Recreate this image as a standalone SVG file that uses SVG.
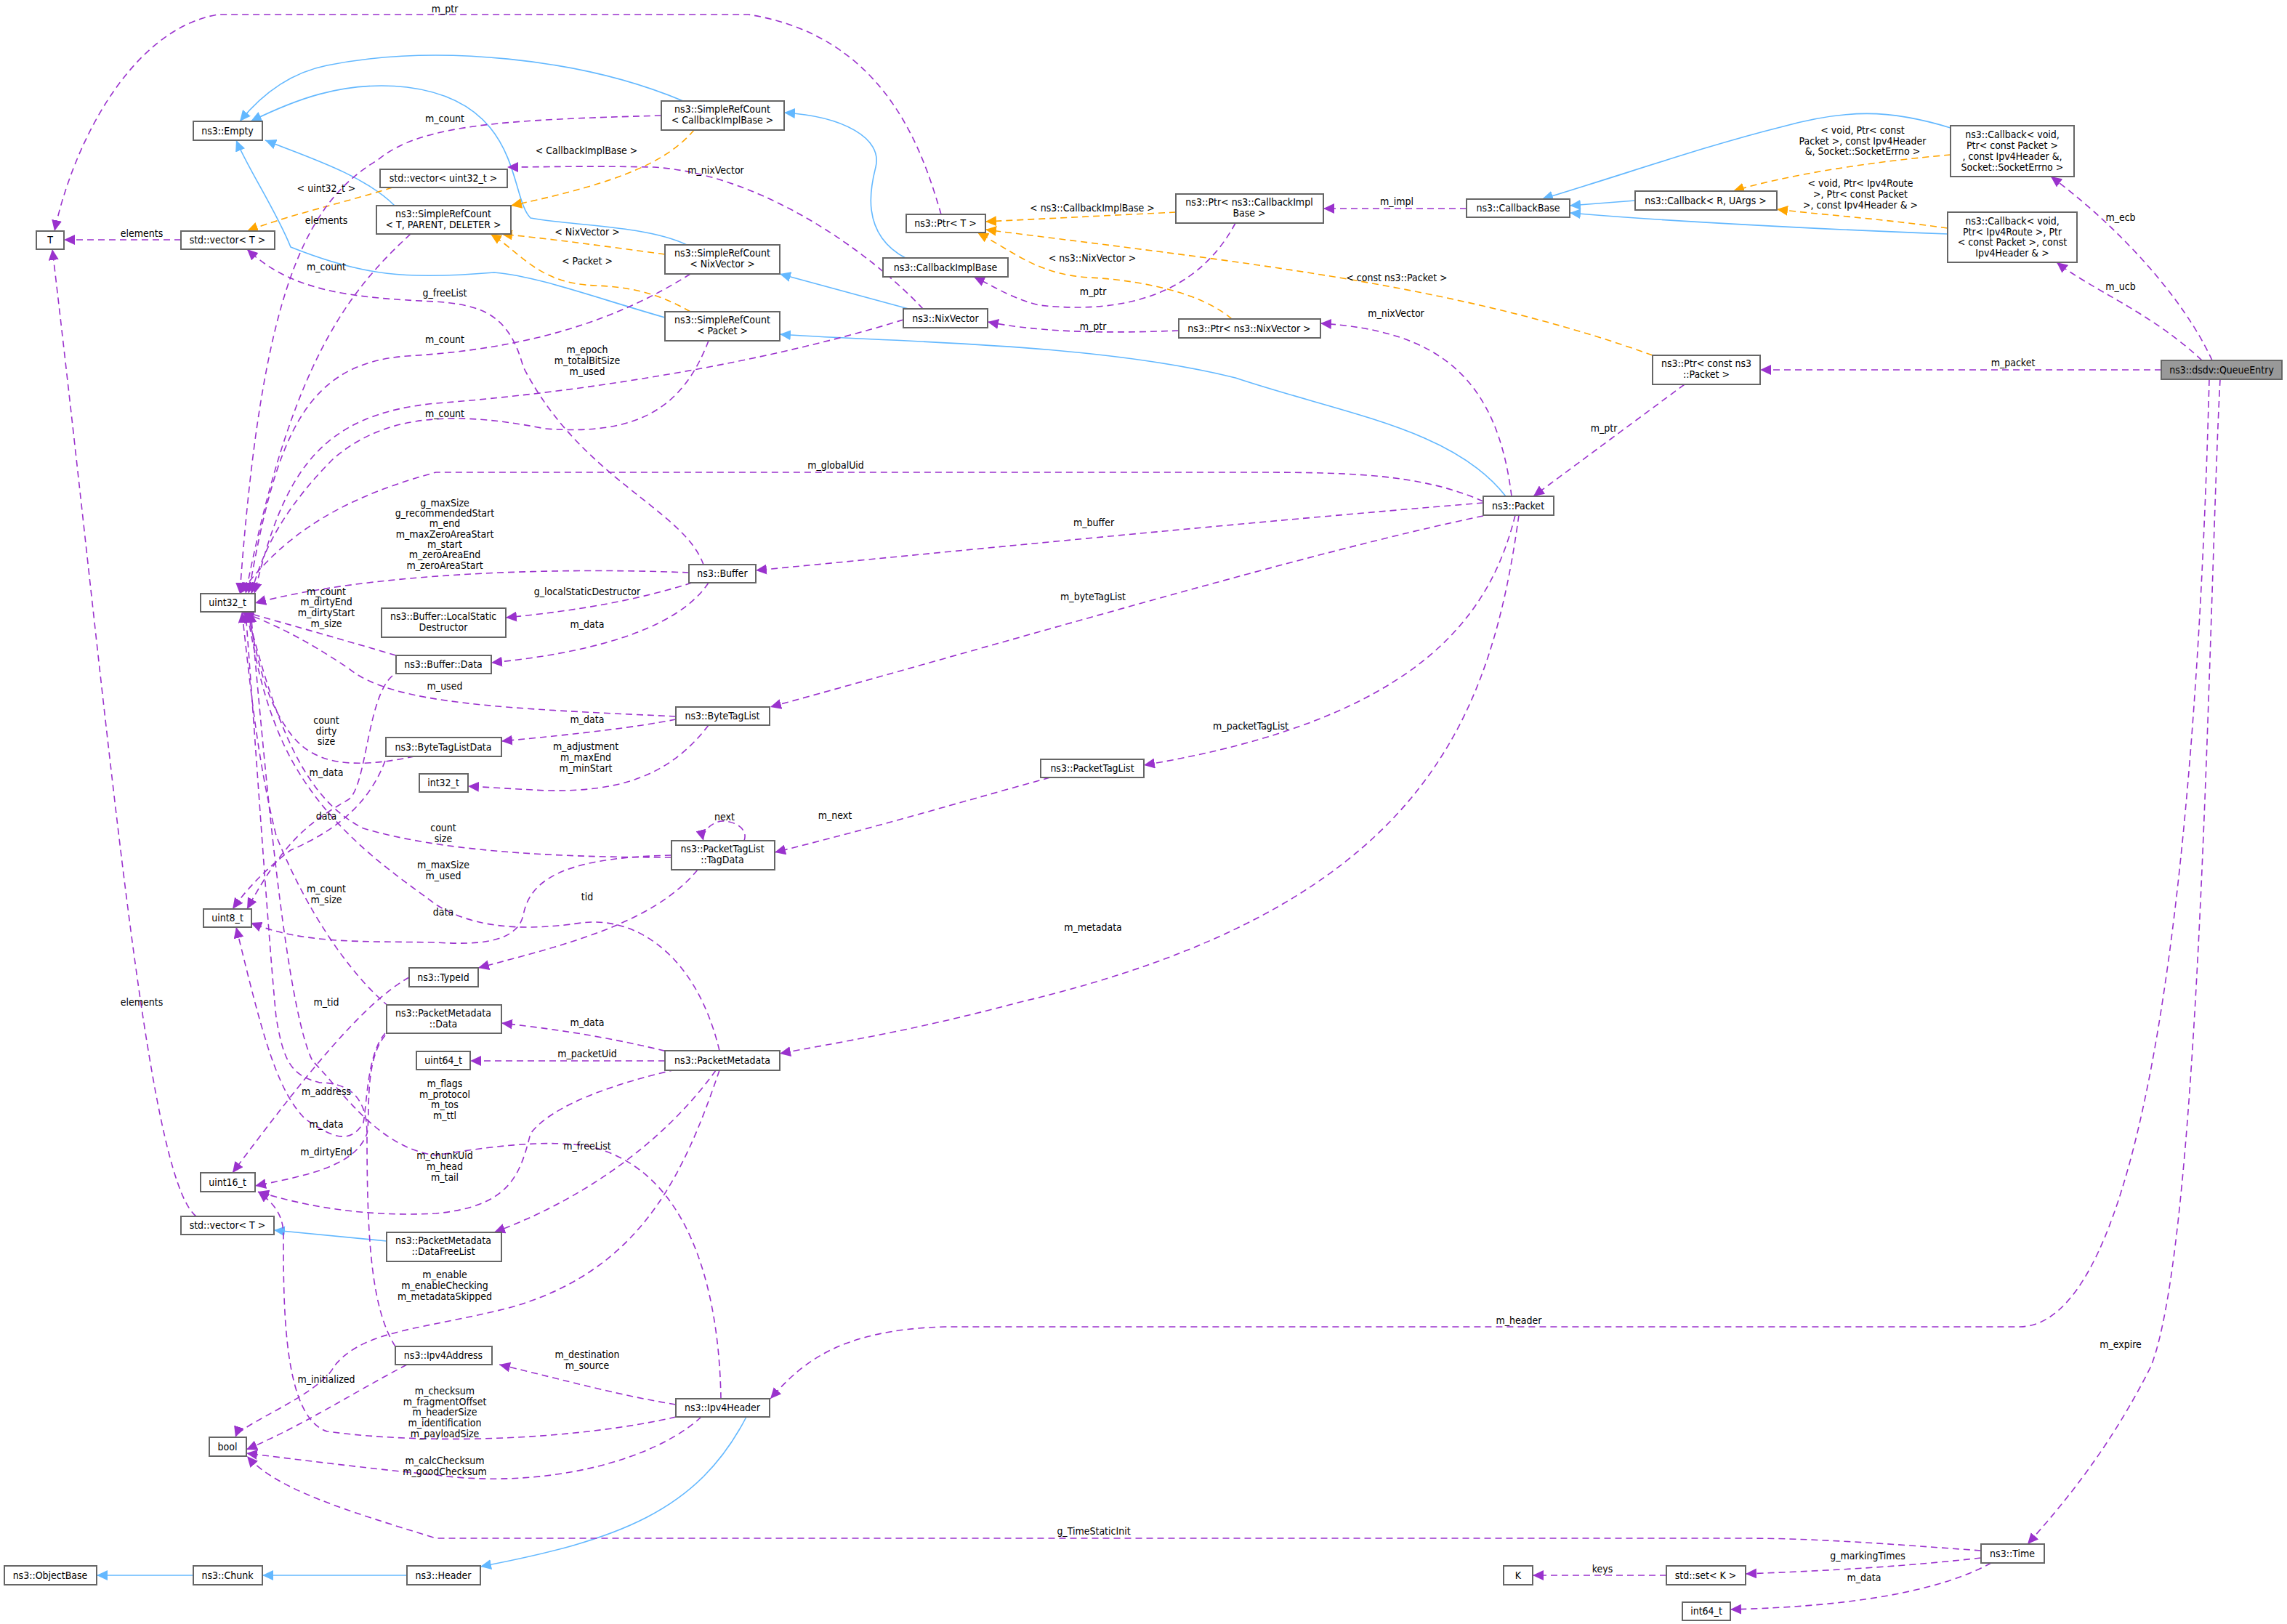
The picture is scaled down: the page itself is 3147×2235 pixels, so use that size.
<svg xmlns="http://www.w3.org/2000/svg" width="3147" height="2235" viewBox="0 0 3147 2235">
<style>
text{font-family:"DejaVu Sans Condensed","DejaVu Sans",sans-serif;font-size:14px;fill:#000}
.n rect{fill:#fff;stroke:#666;stroke-width:2}
.n text{text-anchor:middle}
.g rect{fill:#999}
.u{fill:none;stroke:#9a32cd;stroke-width:1.6;stroke-dasharray:9,6;marker-end:url(#mu)}
.b{fill:none;stroke:#63b8ff;stroke-width:1.6;marker-end:url(#mb)}
.o{fill:none;stroke:orange;stroke-width:1.6;stroke-dasharray:9,6;marker-end:url(#mo)}
.l text{text-anchor:middle}
</style>
<defs>
<marker id="mu" markerUnits="userSpaceOnUse" markerWidth="16" markerHeight="14" refX="15" refY="7" orient="auto"><path d="M0,0L15,7L0,14z" fill="#9a32cd" stroke="none"/></marker>
<marker id="mb" markerUnits="userSpaceOnUse" markerWidth="16" markerHeight="14" refX="15" refY="7" orient="auto"><path d="M0,0L15,7L0,14z" fill="#63b8ff" stroke="none"/></marker>
<marker id="mo" markerUnits="userSpaceOnUse" markerWidth="16" markerHeight="14" refX="15" refY="7" orient="auto"><path d="M0,0L15,7L0,14z" fill="orange" stroke="none"/></marker>
</defs>
<rect width="3147" height="2235" fill="#fff"/>

<g id="edges">
<path class="b" d="M940,139 C800,80 600,60 450,90 C400,100 360,130 330,167"/>
<path class="b" d="M945,337 C890,310 780,310 730,300 C700,270 720,140 560,120 C470,110 400,140 345,167"/>
<path class="b" d="M543,283 C500,240 420,215 365,193"/>
<path class="b" d="M915,437 C820,410 740,380 680,375 C560,385 500,380 400,340 C380,290 340,230 325,193"/>
<path class="b" d="M1246,355 C1180,320 1200,250 1205,230 C1215,190 1160,160 1079,155"/>
<path class="b" d="M1250,425 L1073,377"/>
<path class="b" d="M2072,683 C2000,590 1850,570 1700,520 C1500,470 1200,470 1073,460"/>
<path class="b" d="M2684,176 C2600,150 2540,150 2450,175 C2350,200 2250,235 2122,274"/>
<path class="b" d="M2250,276 L2160,283"/>
<path class="b" d="M2680,322 C2500,315 2300,305 2160,293"/>
<path class="b" d="M532,1708 L377,1693"/>
<path class="b" d="M1027,1950 C960,2080 850,2120 661,2156"/>
<path class="b" d="M560,2168 L361,2168"/>
<path class="b" d="M266,2168 L133,2168"/>

<path class="o" d="M955,179 C920,220 860,250 703,283"/>
<path class="o" d="M540,258 C470,280 400,295 340,318"/>
<path class="o" d="M915,350 C840,340 770,330 690,322"/>
<path class="o" d="M950,429 C900,400 860,395 820,393 C740,390 720,350 675,322"/>
<path class="o" d="M1618,292 L1356,305"/>
<path class="o" d="M1695,439 C1650,400 1560,385 1500,382 C1430,378 1400,350 1345,320"/>
<path class="o" d="M2274,489 C2000,390 1700,360 1356,316"/>
<path class="o" d="M2684,213 C2580,222 2460,240 2385,263"/>
<path class="o" d="M2680,314 C2580,300 2500,295 2445,288"/>

<path class="u" d="M1295,295 C1270,210 1220,50 1030,20 L300,20 C180,40 100,200 75,318"/>
<path class="u" d="M249,330 L88,330"/>
<path class="u" d="M270,1674 C200,1620 150,1000 72,343"/>
<path class="u" d="M910,159 C700,165 580,170 520,220 C420,280 360,400 330,817"/>
<path class="u" d="M565,322 C480,400 400,500 338,817"/>
<path class="u" d="M950,377 C850,440 730,480 560,490 C420,500 380,600 342,817"/>
<path class="u" d="M975,469 C940,560 880,600 750,590 C600,560 520,580 460,630 C390,700 360,760 346,817"/>
<path class="u" d="M1243,440 C1050,500 800,540 600,555 C440,570 390,650 350,817"/>
<path class="u" d="M1270,425 C1200,350 1050,240 900,230 C800,228 750,230 698,230"/>
<path class="u" d="M968,777 C940,700 800,660 720,505 C700,430 660,420 600,415 C480,410 400,400 340,343"/>
<path class="u" d="M2041,690 C1950,650 1850,650 1700,650 L600,650 C450,690 380,750 330,817"/>
<path class="u" d="M2041,692 C1700,720 1300,760 1040,785"/>
<path class="u" d="M2041,710 C1800,760 1400,880 1060,973"/>
<path class="u" d="M2085,709 C2050,850 1950,990 1574,1053"/>
<path class="u" d="M2090,709 C2050,1000 1950,1250 1400,1380 C1250,1420 1150,1435 1073,1450"/>
<path class="u" d="M2080,683 C2060,520 1980,455 1817,445"/>
<path class="u" d="M1622,455 C1500,460 1420,455 1359,443"/>
<path class="u" d="M1700,307 C1640,420 1520,430 1430,420 C1390,410 1370,395 1340,381"/>
<path class="u" d="M2018,287 L1821,287"/>
<path class="u" d="M2974,509 L2422,509"/>
<path class="u" d="M2318,529 L2110,683"/>
<path class="u" d="M3044,496 C3000,400 2900,300 2822,243"/>
<path class="u" d="M3030,496 C2960,430 2880,400 2830,361"/>
<path class="u" d="M3040,522 C3030,900 2990,1820 2780,1826 L1300,1826 C1150,1830 1100,1880 1060,1925"/>
<path class="u" d="M3055,522 C3040,800 3030,1700 2960,1880 C2900,2000 2830,2080 2790,2125"/>
<path class="u" d="M2726,2134 C2600,2125 2500,2117 2400,2117 L600,2117 C480,2080 380,2050 340,2004"/>
<path class="u" d="M2726,2144 C2600,2158 2500,2162 2402,2166"/>
<path class="u" d="M2293,2168 L2109,2168"/>
<path class="u" d="M2740,2151 C2650,2200 2500,2212 2381,2215"/>
<path class="u" d="M948,788 C750,780 500,790 351,830"/>
<path class="u" d="M952,802 C880,825 800,840 696,850"/>
<path class="u" d="M975,802 C930,870 800,900 676,912"/>
<path class="u" d="M545,902 C470,880 400,860 335,842"/>
<path class="u" d="M540,930 C505,960 505,1080 480,1100 C430,1130 395,1150 340,1251"/>
<path class="u" d="M930,986 C700,975 540,970 480,920 C420,880 380,860 332,842"/>
<path class="u" d="M930,990 C880,1000 800,1010 690,1020"/>
<path class="u" d="M975,998 C920,1070 850,1090 750,1088 L644,1082"/>
<path class="u" d="M570,1041 C480,1060 430,1050 400,1010 C370,970 355,920 342,842"/>
<path class="u" d="M530,1047 C510,1100 470,1140 400,1170 C360,1200 335,1230 320,1251"/>
<path class="u" d="M924,1180 C750,1180 600,1170 500,1140 C420,1100 380,1000 340,842"/>
<path class="u" d="M924,1177 C800,1180 730,1200 720,1260 C710,1300 650,1300 600,1297 C500,1295 420,1300 345,1270"/>
<path class="u" d="M960,1197 C900,1270 780,1300 658,1332"/>
<path class="u" d="M1024,1157 C1030,1140 1010,1130 995,1130 C980,1130 965,1145 968,1157"/>
<path class="u" d="M1445,1070 C1300,1110 1200,1140 1066,1173"/>
<path class="u" d="M563,1345 C500,1380 420,1480 320,1614"/>
<path class="u" d="M535,1385 C480,1340 420,1250 380,1150 C355,1050 345,950 333,842"/>
<path class="u" d="M530,1422 C505,1450 505,1520 500,1545 C480,1580 450,1560 420,1540 C380,1500 360,1420 325,1276"/>
<path class="u" d="M530,1425 C500,1460 510,1540 505,1560 C490,1600 440,1615 351,1632"/>
<path class="u" d="M544,1853 C510,1800 505,1700 505,1560 C505,1510 480,1490 440,1490 C400,1480 390,1460 380,1400 C370,1300 350,1000 338,842"/>
<path class="u" d="M560,1878 C480,1920 420,1960 339,1995"/>
<path class="u" d="M990,1446 C960,1320 880,1260 800,1270 C700,1285 640,1270 600,1245 C540,1200 430,1130 380,1000 C360,950 350,900 340,842"/>
<path class="u" d="M930,1450 C850,1430 780,1418 690,1408"/>
<path class="u" d="M915,1460 L647,1460"/>
<path class="u" d="M930,1472 C850,1490 760,1520 730,1560 C715,1620 700,1660 600,1670 C500,1675 420,1660 355,1640"/>
<path class="u" d="M985,1473 C930,1550 830,1640 680,1696"/>
<path class="u" d="M990,1473 C940,1620 880,1750 700,1800 C580,1830 500,1830 460,1880 C440,1920 330,1960 324,1978"/>
<path class="u" d="M992,1925 C990,1800 960,1620 820,1580 C760,1565 660,1580 600,1590 C520,1580 470,1500 430,1460 C390,1380 360,1000 345,842"/>
<path class="u" d="M930,1933 C850,1920 780,1900 687,1878"/>
<path class="u" d="M930,1950 C800,1980 600,1990 450,1970 C390,1950 390,1800 390,1700 C390,1670 375,1655 355,1640"/>
<path class="u" d="M965,1950 C900,2010 750,2050 600,2030 C500,2020 420,2010 339,2000"/>
</g>

<g id="labels" class="l">
<text x="612" y="17">m_ptr</text>
<text x="195" y="326">elements</text>
<text x="195" y="1384">elements</text>
<text x="612" y="168">m_count</text>
<text x="449" y="372">m_count</text>
<text x="612" y="472">m_count</text>
<text x="612" y="574">m_count</text>
<text x="808" y="486">m_epoch</text>
<text x="808" y="501">m_totalBitSize</text>
<text x="808" y="516">m_used</text>
<text x="985" y="239">m_nixVector</text>
<text x="612" y="408">g_freeList</text>
<text x="1150" y="645">m_globalUid</text>
<text x="1505" y="724">m_buffer</text>
<text x="1504" y="826">m_byteTagList</text>
<text x="1721" y="1004">m_packetTagList</text>
<text x="1504" y="1281">m_metadata</text>
<text x="1921" y="436">m_nixVector</text>
<text x="1504" y="454">m_ptr</text>
<text x="1504" y="406">m_ptr</text>
<text x="1922" y="282">m_impl</text>
<text x="2770" y="504">m_packet</text>
<text x="2207" y="594">m_ptr</text>
<text x="2918" y="304">m_ecb</text>
<text x="2918" y="399">m_ucb</text>
<text x="2090" y="1822">m_header</text>
<text x="2918" y="1855">m_expire</text>
<text x="1505" y="2112">g_TimeStaticInit</text>
<text x="2570" y="2146">g_markingTimes</text>
<text x="2205" y="2164">keys</text>
<text x="2565" y="2176">m_data</text>
<text x="612" y="697">g_maxSize</text>
<text x="612" y="711">g_recommendedStart</text>
<text x="612" y="725">m_end</text>
<text x="612" y="740">m_maxZeroAreaStart</text>
<text x="612" y="754">m_start</text>
<text x="612" y="768">m_zeroAreaEnd</text>
<text x="612" y="783">m_zeroAreaStart</text>
<text x="808" y="819">g_localStaticDestructor</text>
<text x="808" y="864">m_data</text>
<text x="449" y="819">m_count</text>
<text x="449" y="833">m_dirtyEnd</text>
<text x="449" y="848">m_dirtyStart</text>
<text x="449" y="863">m_size</text>
<text x="612" y="949">m_used</text>
<text x="808" y="995">m_data</text>
<text x="806" y="1032">m_adjustment</text>
<text x="806" y="1047">m_maxEnd</text>
<text x="806" y="1062">m_minStart</text>
<text x="449" y="996">count</text>
<text x="449" y="1011">dirty</text>
<text x="449" y="1025">size</text>
<text x="449" y="1068">m_data</text>
<text x="449" y="1128">data</text>
<text x="610" y="1144">count</text>
<text x="610" y="1159">size</text>
<text x="997" y="1129">next</text>
<text x="1149" y="1127">m_next</text>
<text x="610" y="1195">m_maxSize</text>
<text x="610" y="1210">m_used</text>
<text x="808" y="1239">tid</text>
<text x="449" y="1228">m_count</text>
<text x="449" y="1243">m_size</text>
<text x="610" y="1260">data</text>
<text x="449" y="1384">m_tid</text>
<text x="808" y="1412">m_data</text>
<text x="808" y="1455">m_packetUid</text>
<text x="612" y="1496">m_flags</text>
<text x="612" y="1511">m_protocol</text>
<text x="612" y="1525">m_tos</text>
<text x="612" y="1540">m_ttl</text>
<text x="449" y="1507">m_address</text>
<text x="449" y="1552">m_data</text>
<text x="449" y="1590">m_dirtyEnd</text>
<text x="808" y="1582">m_freeList</text>
<text x="612" y="1595">m_chunkUid</text>
<text x="612" y="1610">m_head</text>
<text x="612" y="1625">m_tail</text>
<text x="612" y="1759">m_enable</text>
<text x="612" y="1774">m_enableChecking</text>
<text x="612" y="1789">m_metadataSkipped</text>
<text x="808" y="1869">m_destination</text>
<text x="808" y="1884">m_source</text>
<text x="449" y="1903">m_initialized</text>
<text x="612" y="1919">m_checksum</text>
<text x="612" y="1934">m_fragmentOffset</text>
<text x="612" y="1948">m_headerSize</text>
<text x="612" y="1963">m_identification</text>
<text x="612" y="1978">m_payloadSize</text>
<text x="612" y="2015">m_calcChecksum</text>
<text x="612" y="2030">m_goodChecksum</text>
<text x="807" y="212">&lt; CallbackImplBase &gt;</text>
<text x="449" y="264">&lt; uint32_t &gt;</text>
<text x="449" y="308">elements</text>
<text x="808" y="324">&lt; NixVector &gt;</text>
<text x="808" y="364">&lt; Packet &gt;</text>
<text x="1503" y="291">&lt; ns3::CallbackImplBase &gt;</text>
<text x="1503" y="360">&lt; ns3::NixVector &gt;</text>
<text x="1922" y="387">&lt; const ns3::Packet &gt;</text>
<text x="2563" y="184">&lt; void, Ptr&lt; const</text>
<text x="2563" y="199">Packet &gt;, const Ipv4Header</text>
<text x="2563" y="213">&amp;, Socket::SocketErrno &gt;</text>
<text x="2560" y="257">&lt; void, Ptr&lt; Ipv4Route</text>
<text x="2560" y="272">&gt;, Ptr&lt; const Packet</text>
<text x="2560" y="287">&gt;, const Ipv4Header &amp; &gt;</text>
</g>

<g id="n_T" class="n"><rect x="50" y="318" width="38" height="25"/><text x="69" y="335">T</text></g>
<g id="n_vecT" class="n"><rect x="249" y="318" width="129" height="25"/><text x="313" y="335">std::vector&lt; T &gt;</text></g>
<g id="n_vecT2" class="n"><rect x="249" y="1674" width="128" height="25"/><text x="313" y="1691">std::vector&lt; T &gt;</text></g>
<g id="n_empty" class="n"><rect x="266" y="167" width="95" height="26"/><text x="313" y="185">ns3::Empty</text></g>
<g id="n_vecu32" class="n"><rect x="523" y="233" width="175" height="25"/><text x="610" y="250">std::vector&lt; uint32_t &gt;</text></g>
<g id="n_srcT" class="n"><rect x="518" y="283" width="185" height="39"/><text x="610" y="299">ns3::SimpleRefCount</text><text x="610" y="314">&lt; T, PARENT, DELETER &gt;</text></g>
<g id="n_srcCB" class="n"><rect x="910" y="139" width="169" height="40"/><text x="994" y="155">ns3::SimpleRefCount</text><text x="994" y="170">&lt; CallbackImplBase &gt;</text></g>
<g id="n_srcNix" class="n"><rect x="915" y="337" width="158" height="40"/><text x="994" y="353">ns3::SimpleRefCount</text><text x="994" y="368">&lt; NixVector &gt;</text></g>
<g id="n_srcPkt" class="n"><rect x="915" y="429" width="158" height="40"/><text x="994" y="445">ns3::SimpleRefCount</text><text x="994" y="460">&lt; Packet &gt;</text></g>
<g id="n_ptrT" class="n"><rect x="1247" y="295" width="109" height="25"/><text x="1301" y="312">ns3::Ptr&lt; T &gt;</text></g>
<g id="n_cbimpl" class="n"><rect x="1215" y="355" width="172" height="26"/><text x="1301" y="373">ns3::CallbackImplBase</text></g>
<g id="n_nix" class="n"><rect x="1243" y="425" width="116" height="26"/><text x="1301" y="443">ns3::NixVector</text></g>
<g id="n_ptrcb" class="n"><rect x="1618" y="267" width="203" height="40"/><text x="1719" y="283">ns3::Ptr&lt; ns3::CallbackImpl</text><text x="1719" y="298">Base &gt;</text></g>
<g id="n_ptrnix" class="n"><rect x="1622" y="439" width="195" height="26"/><text x="1719" y="457">ns3::Ptr&lt; ns3::NixVector &gt;</text></g>
<g id="n_cbbase" class="n"><rect x="2018" y="274" width="142" height="25"/><text x="2089" y="291">ns3::CallbackBase</text></g>
<g id="n_cbR" class="n"><rect x="2250" y="263" width="195" height="26"/><text x="2347" y="281">ns3::Callback&lt; R, UArgs &gt;</text></g>
<g id="n_ecb" class="n"><rect x="2684" y="173" width="170" height="70"/><text x="2769" y="190">ns3::Callback&lt; void,</text><text x="2769" y="205">Ptr&lt; const Packet &gt;</text><text x="2769" y="220">, const Ipv4Header &amp;,</text><text x="2769" y="235">Socket::SocketErrno &gt;</text></g>
<g id="n_ucb" class="n"><rect x="2680" y="292" width="178" height="69"/><text x="2769" y="309">ns3::Callback&lt; void,</text><text x="2769" y="324">Ptr&lt; Ipv4Route &gt;, Ptr</text><text x="2769" y="338">&lt; const Packet &gt;, const</text><text x="2769" y="353">Ipv4Header &amp; &gt;</text></g>
<g id="n_ptrpkt" class="n"><rect x="2274" y="489" width="148" height="40"/><text x="2348" y="505">ns3::Ptr&lt; const ns3</text><text x="2348" y="520">::Packet &gt;</text></g>
<g id="n_qe" class="n g"><rect x="2974" y="496" width="166" height="26"/><text x="3057" y="514">ns3::dsdv::QueueEntry</text></g>
<g id="n_pkt" class="n"><rect x="2041" y="683" width="97" height="26"/><text x="2089" y="701">ns3::Packet</text></g>
<g id="n_u32" class="n"><rect x="276" y="817" width="75" height="25"/><text x="313" y="834">uint32_t</text></g>
<g id="n_buf" class="n"><rect x="948" y="777" width="92" height="25"/><text x="994" y="794">ns3::Buffer</text></g>
<g id="n_lsd" class="n"><rect x="525" y="837" width="171" height="40"/><text x="610" y="853">ns3::Buffer::LocalStatic</text><text x="610" y="868">Destructor</text></g>
<g id="n_bufdata" class="n"><rect x="545" y="902" width="131" height="25"/><text x="610" y="919">ns3::Buffer::Data</text></g>
<g id="n_btl" class="n"><rect x="930" y="973" width="129" height="25"/><text x="994" y="990">ns3::ByteTagList</text></g>
<g id="n_btld" class="n"><rect x="531" y="1015" width="159" height="26"/><text x="610" y="1033">ns3::ByteTagListData</text></g>
<g id="n_i32" class="n"><rect x="577" y="1065" width="67" height="25"/><text x="610" y="1082">int32_t</text></g>
<g id="n_ptl" class="n"><rect x="1432" y="1045" width="142" height="25"/><text x="1503" y="1062">ns3::PacketTagList</text></g>
<g id="n_td" class="n"><rect x="924" y="1157" width="142" height="40"/><text x="994" y="1173">ns3::PacketTagList</text><text x="994" y="1188">::TagData</text></g>
<g id="n_u8" class="n"><rect x="280" y="1251" width="66" height="25"/><text x="313" y="1268">uint8_t</text></g>
<g id="n_tid" class="n"><rect x="563" y="1332" width="95" height="26"/><text x="610" y="1350">ns3::TypeId</text></g>
<g id="n_pmd" class="n"><rect x="532" y="1383" width="158" height="39"/><text x="610" y="1399">ns3::PacketMetadata</text><text x="610" y="1414">::Data</text></g>
<g id="n_u64" class="n"><rect x="573" y="1447" width="74" height="25"/><text x="610" y="1464">uint64_t</text></g>
<g id="n_pm" class="n"><rect x="915" y="1446" width="158" height="27"/><text x="994" y="1464">ns3::PacketMetadata</text></g>
<g id="n_u16" class="n"><rect x="276" y="1614" width="75" height="26"/><text x="313" y="1632">uint16_t</text></g>
<g id="n_dfl" class="n"><rect x="532" y="1696" width="158" height="40"/><text x="610" y="1712">ns3::PacketMetadata</text><text x="610" y="1727">::DataFreeList</text></g>
<g id="n_ipa" class="n"><rect x="544" y="1853" width="133" height="25"/><text x="610" y="1870">ns3::Ipv4Address</text></g>
<g id="n_iph" class="n"><rect x="930" y="1925" width="129" height="25"/><text x="994" y="1942">ns3::Ipv4Header</text></g>
<g id="n_bool" class="n"><rect x="288" y="1978" width="51" height="26"/><text x="313" y="1996">bool</text></g>
<g id="n_ob" class="n"><rect x="6" y="2155" width="127" height="26"/><text x="69" y="2173">ns3::ObjectBase</text></g>
<g id="n_chunk" class="n"><rect x="266" y="2155" width="95" height="26"/><text x="313" y="2173">ns3::Chunk</text></g>
<g id="n_hdr" class="n"><rect x="560" y="2155" width="101" height="26"/><text x="610" y="2173">ns3::Header</text></g>
<g id="n_time" class="n"><rect x="2726" y="2125" width="87" height="26"/><text x="2769" y="2143">ns3::Time</text></g>
<g id="n_set" class="n"><rect x="2293" y="2155" width="109" height="26"/><text x="2347" y="2173">std::set&lt; K &gt;</text></g>
<g id="n_K" class="n"><rect x="2069" y="2155" width="40" height="26"/><text x="2089" y="2173">K</text></g>
<g id="n_i64" class="n"><rect x="2315" y="2205" width="66" height="25"/><text x="2348" y="2222">int64_t</text></g>
</svg>
